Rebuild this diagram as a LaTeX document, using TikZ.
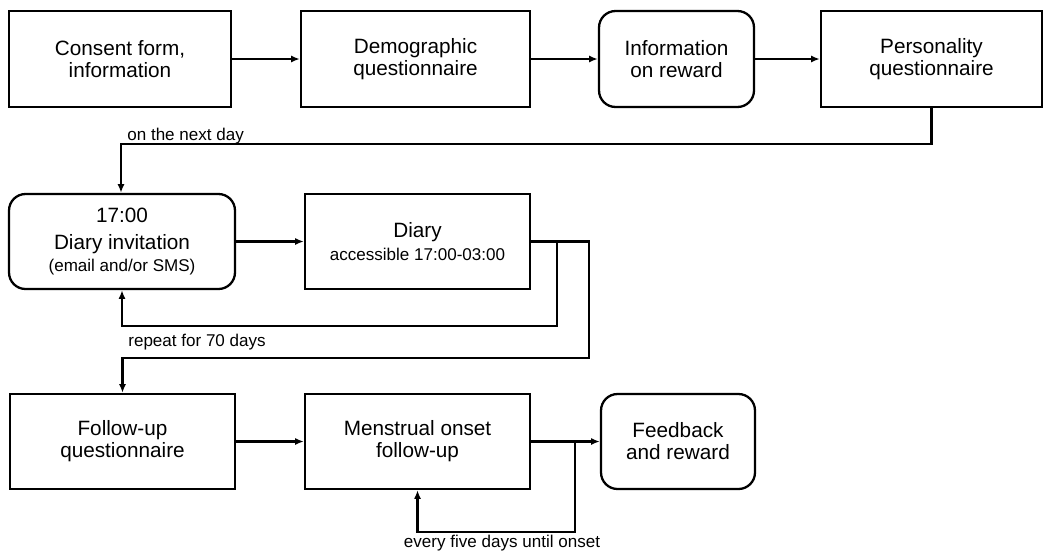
\documentclass[tikz,border=0pt]{standalone}
\usepackage{fontspec}
\setmainfont{Liberation Sans}
\usepackage{tikz}
\usetikzlibrary{arrows.meta, positioning, calc}

\newcommand{\bigtext}{\fontsize{11.8}{12.6}\selectfont}
\newcommand{\smalltext}{\fontsize{9.7}{11.2}\selectfont}

\begin{document}
\begin{tikzpicture}[x=0.02cm, y=-0.02cm,
  stepbox/.style={draw, line width=1.3pt, inner sep=0pt, align=center, minimum height=1.92cm, font=\bigtext},
  roundbox/.style={stepbox, rounded corners=0.33cm},
  arr/.style={-{Latex[length=5pt, width=4pt]}, line width=1.3pt},
  note/.style={font=\smalltext, inner sep=0pt}]
  \useasboundingbox (0,0) rectangle (1050,552);

  % Enrolment
  \node[stepbox, minimum width=4.44cm] (consent) at (120, 59) {Consent form,\\information};
  \node[stepbox, minimum width=4.58cm] (demo) at (415.5, 59) {Demographic\\questionnaire};
  \node[roundbox, minimum width=3.10cm] (reward) at (676.5, 59) {Information\\on reward};
  \node[stepbox, minimum width=4.42cm] (person) at (931.5, 59) {Personality\\questionnaire};

  % Diary phase
  \node[roundbox, minimum width=4.52cm, minimum height=1.90cm] (invite) at (122, 241.5) {17:00\\[2.4pt]Diary invitation\\{\smalltext (email and/or SMS)}};
  \node[stepbox, minimum width=4.50cm, minimum height=1.90cm] (diary) at (417.5, 241.5) {Diary\\{\smalltext accessible 17:00-03:00}};

  % Follow-up
  \node[stepbox, minimum width=4.50cm, minimum height=1.90cm] (follow) at (122.5, 441.5) {Follow-up\\questionnaire};
  \node[stepbox, minimum width=4.50cm, minimum height=1.90cm] (onset) at (417.5, 441.5) {Menstrual onset\\follow-up};
  \node[roundbox, minimum width=3.08cm, minimum height=1.90cm] (feedback) at (678, 441.5) {Feedback\\and reward};

  % Bend points
  \coordinate (nextday) at (121, 144);
  \coordinate (repeat) at (557, 326);
  \coordinate (done) at (589, 358);
  \coordinate (five) at (575, 532);

  % Main arrows
  \draw[arr] (consent) -- (demo);
  \draw[arr] (demo) -- (reward);
  \draw[arr] (reward) -- (person);
  \draw[arr] (person.south) |- (nextday) -- (nextday |- invite.north);
  \draw[arr] (invite) -- (diary);
  \draw[arr] (diary.east) -| (done) -| (follow.north);
  \draw[arr] (follow) -- (onset);
  \draw[arr] (onset) -- (feedback);

  % Loops
  \draw[arr] (repeat |- diary.east) -- (repeat) -| (invite.south);
  \draw[arr] (five |- onset.east) -- (five) -| (onset.south);

  % Labels
  \node[note, anchor=base west] (lblnext) at (127, 140) {on the next day};
  \node[note, anchor=west] (lblrepeat) at (128, 342) {repeat for 70 days};
  \node[note] (lblfive) at (502, 543) {every five days until onset};
\end{tikzpicture}
\end{document}
